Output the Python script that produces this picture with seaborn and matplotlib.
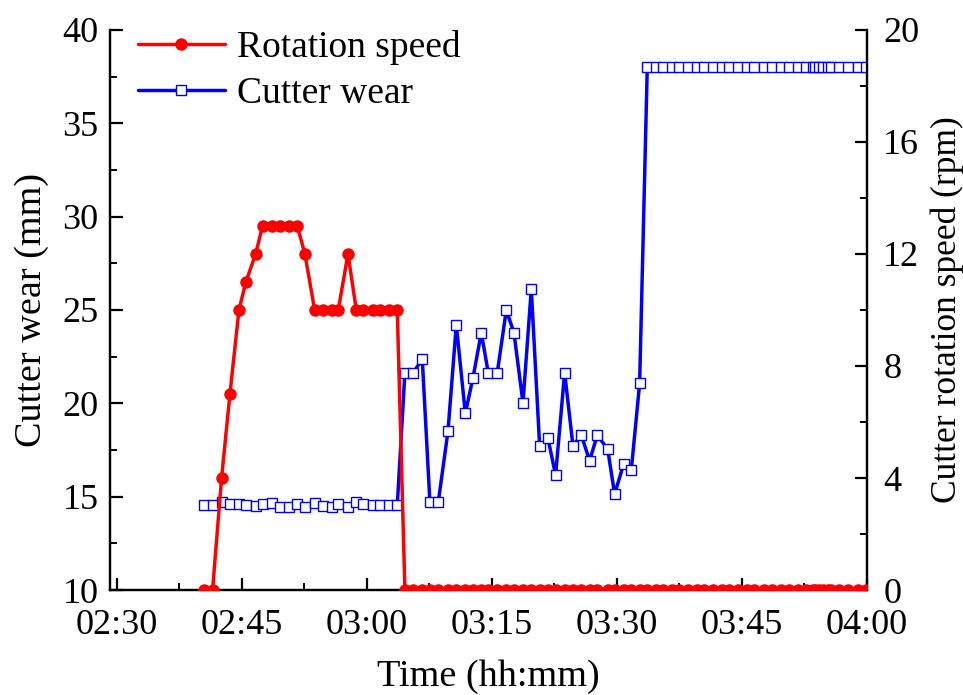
import matplotlib
matplotlib.use("Agg")
import matplotlib.pyplot as plt
import matplotlib.dates as mdates
from matplotlib.ticker import AutoMinorLocator, MultipleLocator
from matplotlib.lines import Line2D
import numpy as np
import pandas as pd
import seaborn as sns

# Sampling times (same clock for both sensors)
times = [
    "02:40:30", "02:41:30", "02:42:35", "02:43:35", "02:44:40", "02:45:30",
    "02:46:40", "02:47:30", "02:48:40", "02:49:35", "02:50:40", "02:51:40",
    "02:52:35", "02:53:45", "02:54:45", "02:55:50", "02:56:35", "02:57:45",
    "02:58:45", "02:59:35", "03:00:45", "03:01:35", "03:02:40", "03:03:40",
    "03:04:35", "03:05:35", "03:06:40", "03:07:35", "03:08:35", "03:09:45",
    "03:10:45", "03:11:50", "03:12:45", "03:13:45", "03:14:35", "03:15:40",
    "03:16:45", "03:17:40", "03:18:45", "03:19:45", "03:20:45", "03:21:45",
    "03:22:40", "03:23:45", "03:24:45", "03:25:45", "03:26:45", "03:27:40",
    "03:28:55", "03:29:45", "03:30:50", "03:31:45", "03:32:45",
    "03:33:40", "03:34:40", "03:35:35", "03:36:35", "03:37:30", "03:38:35",
    "03:39:35", "03:40:30", "03:41:35", "03:42:35", "03:43:30", "03:44:35",
    "03:45:35", "03:46:30", "03:47:40", "03:48:35", "03:49:40", "03:50:40",
    "03:51:45", "03:52:40", "03:53:30", "03:53:50", "03:54:15", "03:54:45",
    "03:55:20", "03:55:40", "03:56:40", "03:57:45", "03:59:00", "03:59:55",
]

# Cutter rotation speed (rpm)
rotation_speed = [
    0, 0, 4, 7, 10, 11, 12, 13, 13, 13, 13, 13,
    12, 10, 10, 10, 10, 12, 10, 10, 10, 10, 10, 10,
] + [0] * 59

# Cutter wear (mm)
cutter_wear = [
    14.55, 14.55, 14.73, 14.59, 14.60, 14.55, 14.50, 14.60, 14.65, 14.46,
    14.46, 14.60, 14.46, 14.65, 14.52, 14.43, 14.60, 14.46, 14.70, 14.60,
    14.55, 14.55, 14.55, 14.55,
    21.64, 21.64, 22.37, 14.70, 14.70, 18.50, 24.20, 19.46, 21.37, 23.78,
    21.64, 21.64, 25.00, 23.78, 20.03, 26.12, 17.73, 18.12, 16.16, 21.64,
    17.73, 18.30, 16.93, 18.30, 17.54, 15.14, 16.75, 16.43, 21.07,
] + [38.0] * 30

x_ticks = ["02:30", "02:45", "03:00", "03:15", "03:30", "03:45", "04:00"]

day = "2021-01-01 "
df = pd.DataFrame({
    "time": pd.to_datetime([day + t for t in times]),
    "speed": rotation_speed,
    "wear": cutter_wear,
})

sns.set_style("ticks")
plt.rcParams["font.family"] = ["Liberation Serif", "DejaVu Serif"]
plt.rcParams["text.color"] = "black"
plt.rcParams["axes.labelcolor"] = "black"
plt.rcParams["xtick.color"] = "black"
plt.rcParams["ytick.color"] = "black"

fig = plt.figure(figsize=(9.63, 6.95), dpi=100)
ax = fig.add_axes([0.114, 0.151, 0.786, 0.806])
ax2 = ax.twinx()

red = "#FF0000"
blue = "#0000FF"
lw = 2.5

sns.lineplot(data=df, x="time", y="wear", ax=ax, color=blue, linewidth=lw,
             marker="s", markersize=7.5, markerfacecolor="white",
             markeredgecolor=blue, markeredgewidth=1.0, zorder=3)
sns.lineplot(data=df, x="time", y="speed", ax=ax2, color=red, linewidth=lw,
             marker="o", markersize=9, markerfacecolor=red,
             markeredgecolor=red, markeredgewidth=0, zorder=3)

tick_fs = 26
label_fs = 27.5
ax.set_xlim(pd.Timestamp(day + "02:29:10"), pd.Timestamp(day + "04:00:00"))
ax.set_xticks(pd.to_datetime([day + t for t in x_ticks]))
ax.xaxis.set_major_formatter(mdates.DateFormatter("%H:%M"))
ax.xaxis.set_minor_locator(AutoMinorLocator(2))

ax.set_ylim(10, 40)
ax.yaxis.set_major_locator(MultipleLocator(5))
ax.yaxis.set_minor_locator(MultipleLocator(2.5))
ax2.set_ylim(0, 20)
ax2.yaxis.set_major_locator(MultipleLocator(4))
ax2.yaxis.set_minor_locator(MultipleLocator(2))

for a in (ax, ax2):
    a.tick_params(which="major", direction="in", length=9, width=1.6,
                  labelsize=tick_fs, color="black", labelcolor="black", pad=8)
    a.tick_params(which="minor", direction="in", length=5, width=1.4,
                  color="black")
    for side in ("left", "right", "bottom"):
        a.spines[side].set_linewidth(1.6)
        a.spines[side].set_color("black")
    a.spines["top"].set_visible(False)
    a.grid(False)

ax.tick_params(axis="x", pad=14)
ax2.tick_params(axis="y", pad=12)
ax.set_xlabel("Time (hh:mm)", fontsize=label_fs, labelpad=12, color="black")
ax.set_ylabel("Cutter wear (mm)", fontsize=label_fs, labelpad=10, color="black")
ax2.set_ylabel("Cutter rotation speed (rpm)", fontsize=25.5, labelpad=8,
               color="black")

handles = [
    Line2D([], [], color=red, linewidth=lw, marker="o", markersize=9,
           markerfacecolor=red, markeredgewidth=0),
    Line2D([], [], color=blue, linewidth=lw, marker="s", markersize=7.5,
           markerfacecolor="white", markeredgecolor=blue, markeredgewidth=1.0),
]
leg = ax2.legend(handles, ["Rotation speed", "Cutter wear"], loc="upper left",
                 bbox_to_anchor=(0.037, 1.0), frameon=False, fontsize=27,
                 handlelength=2.32, handletextpad=0.33, labelspacing=0.3,
                 borderaxespad=0, borderpad=0)
for t in leg.get_texts():
    t.set_color("black")

fig.savefig("out.png", dpi=100)
